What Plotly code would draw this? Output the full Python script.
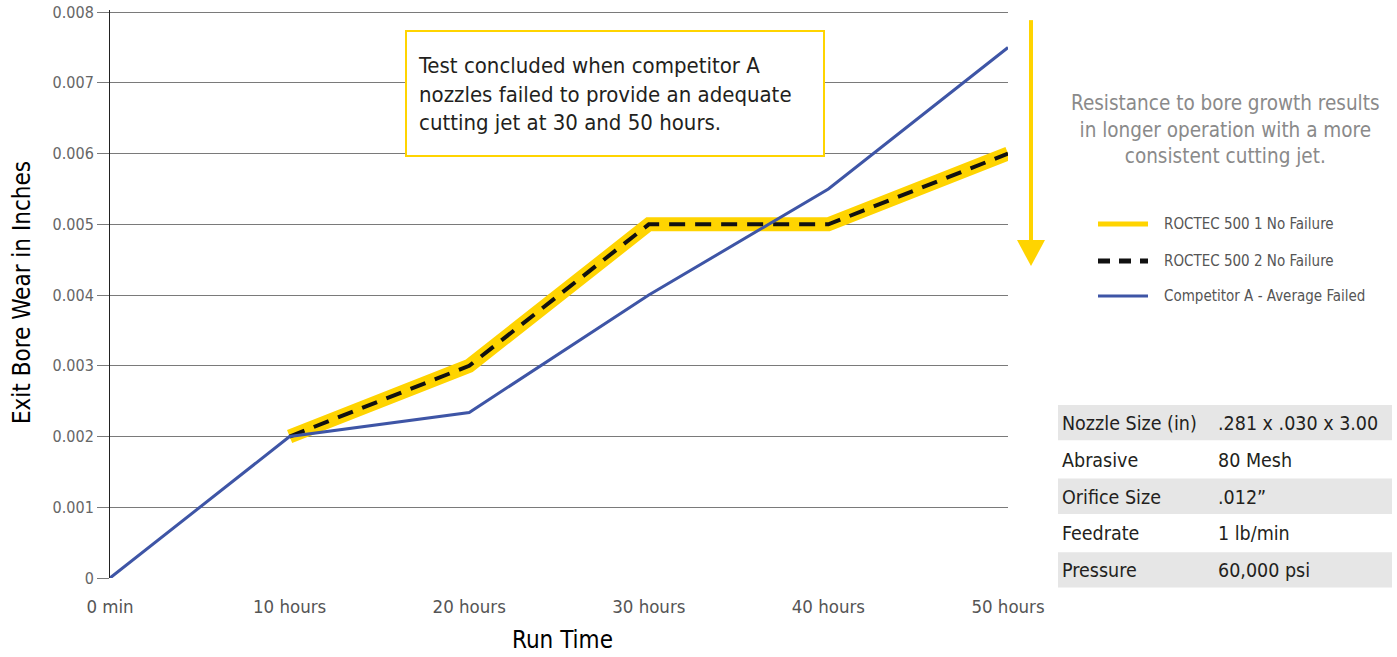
import plotly.graph_objects as go

# ---------------- data ----------------
x_hours = [0, 10, 20, 30, 40, 50]
x_labels = ["0 min", "10 hours", "20 hours", "30 hours", "40 hours", "50 hours"]

roctec1_x = [10, 20, 30, 40, 50]
roctec1_y = [0.002, 0.003, 0.005, 0.005, 0.006]
roctec2_x = [10, 20, 30, 40, 50]
roctec2_y = [0.002, 0.003, 0.005, 0.005, 0.006]
compA_x = [0, 10, 20, 30, 40, 50]
compA_y = [0.0, 0.002, 0.00234, 0.004, 0.0055, 0.0075]

y_ticks = [0, 0.001, 0.002, 0.003, 0.004, 0.005, 0.006, 0.007, 0.008]
y_ticktext = ["0", "0.001", "0.002", "0.003", "0.004", "0.005", "0.006", "0.007", "0.008"]

series_names = ["ROCTEC 500 1 No Failure", "ROCTEC 500 2 No Failure", "Competitor A - Average Failed"]

table_labels = ["Nozzle Size (in)", "Abrasive", "Orifice Size", "Feedrate", "Pressure"]
table_values = [".281 x .030 x 3.00", "80 Mesh", ".012\u201d", "1 lb/min", "60,000 psi"]

note_text = ("Test concluded when competitor A<br>nozzles failed to provide an adequate"
             "<br>cutting jet at 30 and 50 hours.")
side_text = "Resistance to bore growth results<br>in longer operation with a more<br>consistent cutting jet."

# ---------------- style ----------------
FONT = "DejaVu Sans Condensed, Liberation Sans Narrow, sans-serif"
YELLOW = "#ffd400"
BLUE = "#3e55a6"
W, H = 1397, 657
Y_MAX = 0.00803
L, R, B = 110, 1008, 578  # plot area in screen pixels
T = B - (B - 12) * Y_MAX / 0.008  # top so that 0.008 sits at y=12


def px(xp):
    return (xp - L) / (R - L)


def py(yp):
    return (B - yp) / (B - T)


fig = go.Figure()
fig.add_trace(go.Scatter(x=roctec1_x, y=roctec1_y, mode="lines", name=series_names[0],
                         line=dict(color=YELLOW, width=14), showlegend=False))
fig.add_trace(go.Scatter(x=roctec2_x, y=roctec2_y, mode="lines", name=series_names[1],
                         line=dict(color="#111111", width=4, dash="16px,10px"), showlegend=False))
fig.add_trace(go.Scatter(x=compA_x, y=compA_y, mode="lines", name=series_names[2],
                         line=dict(color=BLUE, width=3), showlegend=False))

shapes = []
annotations = []

# annotation box
shapes.append(dict(type="rect", xref="paper", yref="paper",
                   x0=px(406), x1=px(824), y0=py(156), y1=py(31),
                   line=dict(color=YELLOW, width=2), fillcolor="white", layer="above"))
annotations.append(dict(xref="paper", yref="paper", x=px(416), y=py(94), xanchor="left", yanchor="middle",
                        text=note_text, showarrow=False, align="left",
                        font=dict(family=FONT, size=22, color="#231f20")))

# vertical arrow
shapes.append(dict(type="line", xref="paper", yref="paper", x0=px(1031), x1=px(1031),
                   y0=py(20), y1=py(243), line=dict(color=YELLOW, width=4)))
shapes.append(dict(type="path", xref="paper", yref="paper",
                   path=f"M {px(1017)} {py(240)} L {px(1045)} {py(240)} L {px(1031)} {py(266)} Z",
                   fillcolor=YELLOW, line=dict(color=YELLOW, width=0)))

# side text
annotations.append(dict(xref="paper", yref="paper", x=px(1225), y=py(129), xanchor="center", yanchor="middle",
                        text=side_text, showarrow=False, align="center",
                        font=dict(family=FONT, size=20.5, color="#8a8a8a")))

# manual legend
leg_y = [224, 261, 296]
leg_styles = [dict(color=YELLOW, width=5), dict(color="#111111", width=5, dash="12px,9px"),
              dict(color=BLUE, width=3)]
for i, name in enumerate(series_names):
    shapes.append(dict(type="line", xref="paper", yref="paper", x0=px(1098), x1=px(1148),
                       y0=py(leg_y[i]), y1=py(leg_y[i]), line=leg_styles[i]))
    annotations.append(dict(xref="paper", yref="paper", x=px(1162), y=py(leg_y[i]), xanchor="left",
                            yanchor="middle", text=name, showarrow=False,
                            font=dict(family=FONT, size=15, color="#555555")))

# spec table
row_top = 405
row_h = 36.8
for i, (lab, val) in enumerate(zip(table_labels, table_values)):
    y0 = row_top + i * row_h
    if i % 2 == 0:
        shapes.append(dict(type="rect", xref="paper", yref="paper", x0=px(1058), x1=px(1392),
                           y0=py(y0 + row_h - 1.5), y1=py(y0), fillcolor="#e6e6e6", line=dict(width=0),
                           layer="below"))
    yc = y0 + row_h / 2
    annotations.append(dict(xref="paper", yref="paper", x=px(1060), y=py(yc), xanchor="left",
                            yanchor="middle", text=lab, showarrow=False,
                            font=dict(family=FONT, size=19.5, color="#231f20")))
    annotations.append(dict(xref="paper", yref="paper", x=px(1216), y=py(yc), xanchor="left",
                            yanchor="middle", text=val, showarrow=False,
                            font=dict(family=FONT, size=19.5, color="#231f20")))

# axis titles
annotations.append(dict(xref="paper", yref="paper", x=px(22), y=py(293), xanchor="center", yanchor="middle",
                        text="Exit Bore Wear in Inches", textangle=-90, showarrow=False,
                        font=dict(family=FONT, size=24, color="#000000")))
annotations.append(dict(xref="paper", yref="paper", x=px(562), y=py(640), xanchor="center", yanchor="middle",
                        text="Run Time", showarrow=False,
                        font=dict(family=FONT, size=24, color="#000000")))

fig.update_layout(
    width=W, height=H,
    margin=dict(l=L, r=W - R, t=T, b=H - B, autoexpand=False),
    paper_bgcolor="white", plot_bgcolor="white",
    shapes=shapes, annotations=annotations,
    showlegend=False,
    xaxis=dict(range=[0, 50], tickvals=x_hours, ticktext=x_labels, showgrid=False, zeroline=False,
               showline=False, ticks="outside", ticklen=12, tickcolor="rgba(0,0,0,0)",
               tickfont=dict(family=FONT, size=18.5, color="#555555"), fixedrange=True),
    yaxis=dict(range=[0, Y_MAX], tickvals=y_ticks, ticktext=y_ticktext, showgrid=True,
               gridcolor="#7a7a7a", gridwidth=1, zeroline=False, showline=True, linecolor="#222222",
               linewidth=1, ticks="outside", ticklen=12, tickcolor="#7a7a7a",
               ticklabeloverflow="allow",
               tickfont=dict(family=FONT, size=16, color="#666666"), fixedrange=True),
)

fig.write_html("out.html", config={"displayModeBar": False},
               post_script="document.body.style.margin='0';document.body.style.overflow='hidden';")
